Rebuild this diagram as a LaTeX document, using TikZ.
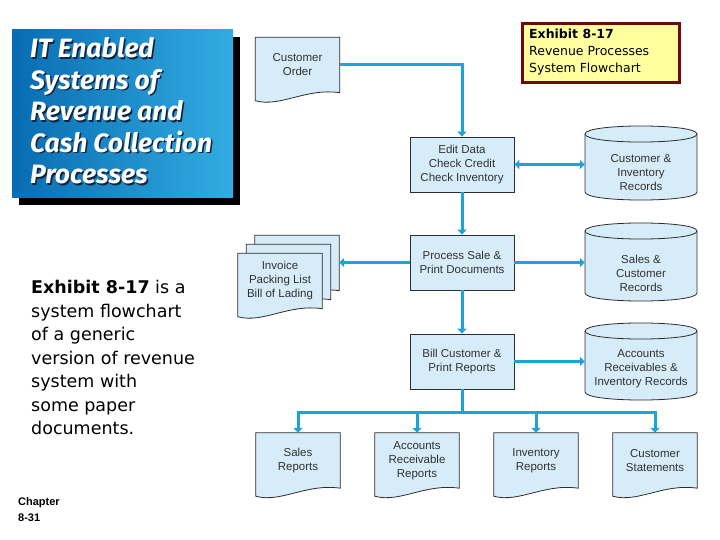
\documentclass[tikz,border=0pt]{standalone}
\usepackage{fontspec}
\setmainfont{Liberation Sans}
\newfontfamily\comicfont{DejaVu Sans}
\newfontfamily\titlefont{Fira Sans}
\usetikzlibrary{arrows.meta,calc}
\definecolor{flowblue}{RGB}{28,163,220}
\definecolor{paleblue}{RGB}{214,236,248}
\definecolor{edgegray}{RGB}{45,45,45}
\definecolor{txtgray}{RGB}{50,50,50}
\definecolor{exfill}{RGB}{255,255,160}
\definecolor{exborder}{RGB}{110,10,10}
\definecolor{titleA}{RGB}{8,108,178}
\definecolor{titleB}{RGB}{50,172,226}
\definecolor{titleshadow}{RGB}{20,35,60}
\pgfdeclarelayer{bg}
\pgfsetlayers{bg,main}
\tikzset{
  flowline/.style={draw=flowblue, line width=3pt},
  flow/.style={flowline, -{Triangle[length=5pt,width=9pt]}},
  flowboth/.style={flowline, {Triangle[length=5pt,width=9pt]}-{Triangle[length=5pt,width=9pt]}},
  lbl/.style={font=\fontsize{11.5}{14}\selectfont, text=txtgray, align=center},
  procbox/.style={lbl, draw=edgegray, fill=paleblue, line width=0.8pt, minimum width=104pt, minimum height=55pt, inner sep=0pt},
  docnode/.style={lbl, minimum width=84pt, minimum height=55pt, inner sep=0pt},
  cylnode/.style={lbl, minimum width=112pt, inner sep=0pt},
  shapeline/.style={draw=edgegray, fill=paleblue, line width=0.8pt},
  titletext/.style={font=\titlefont\bfseries\itshape\fontsize{26.5}{31.5}\selectfont, align=left, inner sep=0pt, anchor=west},
}
\newcommand\docshape[1]{%
  \path[shapeline] (#1.north west) -- (#1.north east) -- (#1.south east)
    .. controls ($(#1.south east)+(-34,-5)$) and ($(#1.south west)+(25,15)$) .. ($(#1.south west)+(0,8)$) -- cycle;}
\newcommand\cylshape[4]{%
  \path[shapeline] (#1,#3) -- (#1,#4) .. controls (#1,#4+10.7) and (#2,#4+10.7) .. (#2,#4)
    -- (#2,#3) .. controls (#2,#3-10.7) and (#1,#3-10.7) .. (#1,#3) -- cycle;
  \draw[edgegray, line width=0.8pt] (#1,#3) .. controls (#1,#3+10.7) and (#2,#3+10.7) .. (#2,#3);}
\begin{document}
\begin{tikzpicture}[x=1pt,y=-1pt]
\useasboundingbox (0,0) rectangle (720,540);
\begin{pgfonlayer}{bg}
\fill[white] (0,0) rectangle (720,540);
\end{pgfonlayer}

% title box
\fill[black] (19,37) rectangle (240,205);
\shade[left color=titleA, right color=titleB] (12,30) rectangle (233,198);
\node[titletext, text=titleshadow] (titleshadow) at (31.5,112.5) {IT Enabled\\Systems of\\Revenue and\\Cash Collection\\Processes};
\node[titletext, text=white] (title) at (30,111) {IT Enabled\\Systems of\\Revenue and\\Cash Collection\\Processes};

% left description
\node[font=\comicfont\fontsize{17.5}{23.5}\selectfont, align=left, anchor=west, inner sep=0pt] (desc) at (31,357.5)
  {\textbf{Exhibit 8-17} is a\\system flowchart\\of a generic\\version of revenue\\system with\\some paper\\documents.};
\node[font=\bfseries\fontsize{11}{16}\selectfont, align=left, anchor=west, inner sep=0pt] (chapter) at (18,510) {Chapter\\8-31};

% exhibit box
\node[draw=exborder, line width=3pt, fill=exfill, minimum width=157pt, minimum height=59pt, inner sep=0pt] (exbox) at (600.5,53.5) {};
\node[font=\comicfont\fontsize{12.5}{17}\selectfont, align=left, anchor=west, inner sep=0pt] (extext) at (529,52.5)
  {\textbf{Exhibit 8-17}\\Revenue Processes\\System Flowchart};

% cylinders
\cylshape{585}{697}{134}{192}
\cylshape{585}{697}{231}{293}
\cylshape{585}{697}{331}{392}
\node[cylnode] (ci) at (641,173) {Customer \&\\Inventory\\Records};
\node[cylnode] (sc) at (641,273) {Sales \&\\Customer\\Records};
\node[cylnode] (ar) at (641,369) {Accounts\\Receivables \&\\Inventory Records};

% process boxes
\node[procbox] (ed) at (462,164.5) {Edit Data\\Check Credit\\Check Inventory};
\node[procbox] (ps) at (462,262.5) {Process Sale \&\\Print Documents};
\node[procbox] (bc) at (462,361.5) {Bill Customer \&\\Print Reports};

% documents
\node[docnode] (co) at (297.5,65) {Customer\\Order};
\node[docnode] (inv3) at (297,263) {};
\node[docnode] (inv2) at (288.5,272) {};
\node[docnode] (inv1) at (280,281) {Invoice\\Packing List\\Bill of Lading};
\node[docnode] (sr) at (298,460.5) {Sales\\Reports};
\node[docnode] (arr) at (417,460.5) {Accounts\\Receivable\\Reports};
\node[docnode] (ir) at (536,460.5) {Inventory\\Reports};
\node[docnode] (cs) at (655,460.5) {Customer\\Statements};
\begin{pgfonlayer}{bg}
  \docshape{co}
  \docshape{inv3}
  \docshape{inv2}
  \docshape{inv1}
  \docshape{sr}
  \docshape{arr}
  \docshape{ir}
  \docshape{cs}
\end{pgfonlayer}

% connectors
\draw[flow] (co.east) -| (ed.north);
\draw[flowboth] (ed.east) -- (ed.east -| ci.west);
\draw[flow] (ed.south) -- (ps.north);
\draw[flow] (ps.east) -- (ps.east -| sc.west);
\draw[flow] (ps.west) -- (ps.west -| inv3.east);
\draw[flow] (ps.south) -- (bc.north);
\draw[flow] (bc.east) -- (bc.east -| ar.west);
\coordinate (bus) at (462,412);
\draw[flowline] (bc.south) -- (bus);
\draw[flowline, line cap=rect] (sr.north |- bus) -- (cs.north |- bus);
\foreach \n in {sr,arr,ir,cs} \draw[flow] (\n.north |- bus) -- (\n.north);
\end{tikzpicture}
\end{document}
